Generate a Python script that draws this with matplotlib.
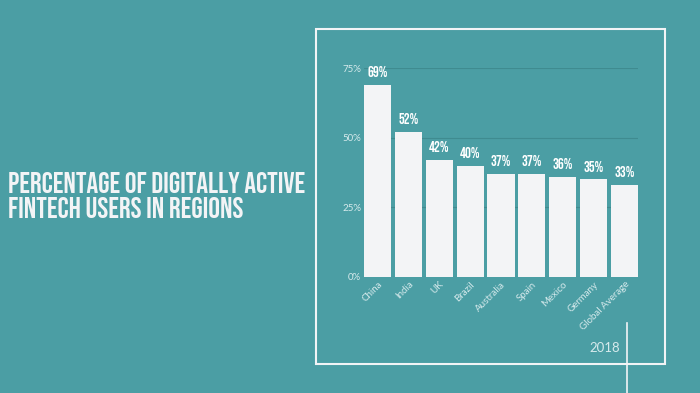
import matplotlib.pyplot as plt
from matplotlib.patches import Rectangle
from matplotlib.lines import Line2D

regions = ['China', 'India', 'UK', 'Brazil', 'Australia', 'Spain', 'Mexico', 'Germany', 'Global Average']
users_pct = [69, 52, 42, 40, 37, 37, 36, 35, 33]
yticks = [0, 25, 50, 75]

headline_font = ['Bebas Neue', 'Oswald', 'Liberation Sans Narrow', 'DejaVu Sans']
body_font = ['Lato', 'DejaVu Sans']

bg = '#4b9ea4'
fig = plt.figure(figsize=(7, 3.93), dpi=100, facecolor=bg)

# frame and decorative line
fig.add_artist(Rectangle((316 / 700, 1 - 364 / 393), 349 / 700, 335 / 393, transform=fig.transFigure,
                         fill=False, edgecolor='#f2f4f6', linewidth=1.5))
fig.add_artist(Line2D([627 / 700, 627 / 700], [0, 1 - 323 / 393], transform=fig.transFigure,
                      color='#f2f4f6', linewidth=1.2))

ax = fig.add_axes([364 / 700, 1 - 277 / 393, 274 / 700, 209 / 393])
ax.set_facecolor(bg)
x = range(len(regions))
ax.bar(x, users_pct, width=0.875, color='#f3f4f6', zorder=3)
ax.set_xlim(-0.4375, len(regions) - 0.5625)
ax.set_ylim(0, 75)
ax.set_yticks(yticks)
ax.set_yticklabels([f'{t}%' for t in yticks], family=body_font)
ax.grid(axis='y', color='#3f8b90', linewidth=0.8, zorder=0)
for s in ax.spines.values():
    s.set_visible(False)
ax.tick_params(length=0, colors='#d6eaec', labelsize=7, pad=2)
ax.set_xticks(list(x))
ax.set_xticklabels(regions, rotation=45, ha='right', rotation_mode='anchor', fontsize=7,
                   color='#d6eaec', family=body_font)

for i, v in zip(x, users_pct):
    ax.text(i, v + 2.8, f'{v}%', ha='center', va='bottom', color='white', fontsize=10.5,
            family=headline_font, clip_on=False)

fig.text(8 / 700, 1 - 195 / 393, 'PERCENTAGE OF DIGITALLY ACTIVE\nFINTECH USERS IN REGIONS',
         ha='left', va='center', color='#f3f4f6', fontsize=21, family=headline_font,
         linespacing=1.15)

fig.text(605 / 700, 1 - 348 / 393, '2018', ha='center', va='center', color='#d6eaec',
         fontsize=9.5, family=body_font)

fig.savefig('out.png', dpi=100, facecolor=bg)
